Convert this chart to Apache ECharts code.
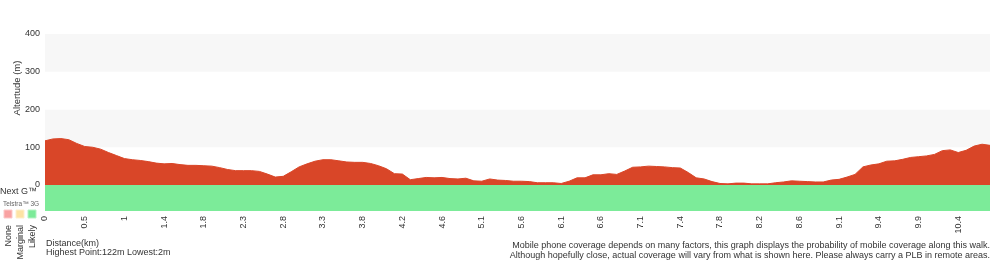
<!DOCTYPE html>
<html>
<head>
<meta charset="utf-8">
<script src="https://cdn.jsdelivr.net/npm/echarts@6/dist/echarts.min.js"></script>
<style>
html,body{margin:0;padding:0;background:#fff;}
#chart{width:1000px;height:260px;}
</style>
</head>
<body>
<div id="chart"></div>
<script>
// Elevation (m) sampled along the walk, 120 evenly spaced points
var elevation = [
117,122,123,120,110,102,100,95,86,78,
70,67,65,62,58,56,57,54,52,52,
51,50,46,41,38,38,38,36,29,21,
23,35,48,56,63,67,67,64,61,60,
60,57,51,43,30,29,14,17,20,19,
20,17,16,18,11,10,16,13,12,10,
10,9,6,6,6,4,10,19,19,27,
27,30,28,37,47,48,50,49,48,46,
45,33,19,16,9,4,3,5,5,3,
3,3,6,8,11,10,9,8,8,13,
15,21,28,48,53,56,63,64,68,73,
75,77,81,91,93,86,92,103,108,105
];
// Distance tick labels (km), one every 5 samples
var tickLabels = ['0','0.5','1','1.4','1.8','2.3','2.8','3.3','3.8','4.2','4.6','5.1','5.6','6.1','6.6','7.1','7.4','7.8','8.2','8.6','9.1','9.4','9.9','10.4'];
// Coverage level per sample (Telstra 3G): all "Likely"
var coverage = elevation.map(function(){ return 1; });
var yTicks = [0,100,200,300,400];

var categories = elevation.map(function(v, i){ return String(i); });

var chart = echarts.init(document.getElementById('chart'), null, {renderer:'canvas'});
var font = 'Liberation Sans, Arial, sans-serif';
var txt = '#333';

chart.setOption({
  animation:false,
  textStyle:{fontFamily:font},
  grid:[
    {left:45, right:10, top:34, height:151},
    {left:45, right:10, top:185, height:26}
  ],
  xAxis:[
    {gridIndex:0, type:'category', data:categories, boundaryGap:false, show:false},
    {gridIndex:1, type:'category', data:categories, boundaryGap:false,
     axisLine:{show:false}, axisTick:{show:false}, splitLine:{show:false},
     axisLabel:{rotate:90, interval:4, margin:5, fontSize:9, color:txt, fontFamily:font,
       formatter:function(v, idx){ return idx % 5 === 0 ? (tickLabels[idx/5] || '') : ''; }}}
  ],
  yAxis:[
    {gridIndex:0, type:'value', min:0, max:400, interval:100,
     axisLine:{show:false}, axisTick:{show:false}, splitLine:{show:false},
     splitArea:{show:true, areaStyle:{color:['#ffffff','#f7f7f7']}},
     axisLabel:{fontSize:9, color:txt, margin:5, fontFamily:font}},
    {gridIndex:1, type:'value', min:0, max:1, show:false}
  ],
  series:[
    {type:'line', xAxisIndex:0, yAxisIndex:0, data:elevation, symbol:'none',
     lineStyle:{color:'#d94628', width:1}, areaStyle:{color:'#d94628', opacity:1}},
    {type:'line', xAxisIndex:1, yAxisIndex:1, data:coverage, symbol:'none',
     lineStyle:{width:0}, areaStyle:{color:'#7ceb99', opacity:1}}
  ],
  graphic:[
    {type:'text', x:17, y:88, rotation:Math.PI/2,
     style:{text:'Altertude (m)', font:'9.5px '+font, fill:txt, align:'center', verticalAlign:'middle'}},
    {type:'text', x:0, y:192,
     style:{text:'Next G\u2122', font:'9px '+font, fill:txt, align:'left', verticalAlign:'middle'}},
    {type:'text', x:3, y:204,
     style:{text:'Telstra\u2122 3G', font:'6.5px '+font, fill:'#666', align:'left', verticalAlign:'middle'}},
    {type:'rect', shape:{x:4, y:210, width:8, height:8}, style:{fill:'#f9a2a2', stroke:'#fbc9c9', lineWidth:1}},
    {type:'rect', shape:{x:16, y:210, width:8, height:8}, style:{fill:'#fde3a4', stroke:'#feefcc', lineWidth:1}},
    {type:'rect', shape:{x:28, y:210, width:8, height:8}, style:{fill:'#7ceb99', stroke:'#b5f3c4', lineWidth:1}},
    {type:'text', x:8.5, y:225, rotation:Math.PI/2,
     style:{text:'None', font:'9px '+font, fill:txt, align:'right', verticalAlign:'middle'}},
    {type:'text', x:20.5, y:225, rotation:Math.PI/2,
     style:{text:'Marginal', font:'9px '+font, fill:txt, align:'right', verticalAlign:'middle'}},
    {type:'text', x:32.5, y:225, rotation:Math.PI/2,
     style:{text:'Likely', font:'9px '+font, fill:txt, align:'right', verticalAlign:'middle'}},
    {type:'text', x:46, y:243.5,
     style:{text:'Distance(km)', font:'9px '+font, fill:txt, align:'left', verticalAlign:'middle'}},
    {type:'text', x:46, y:252.5,
     style:{text:'Highest Point:122m Lowest:2m', font:'9px '+font, fill:txt, align:'left', verticalAlign:'middle'}},
    {type:'text', x:990, y:245.5,
     style:{text:'Mobile phone coverage depends on many factors, this graph displays the probability of mobile coverage along this walk.', font:'9px '+font, fill:txt, align:'right', verticalAlign:'middle'}},
    {type:'text', x:990, y:255.5,
     style:{text:'Although hopefully close, actual coverage will vary from what is shown here. Please always carry a PLB in remote areas.', font:'9px '+font, fill:txt, align:'right', verticalAlign:'middle'}}
  ]
});
</script>
</body>
</html>
